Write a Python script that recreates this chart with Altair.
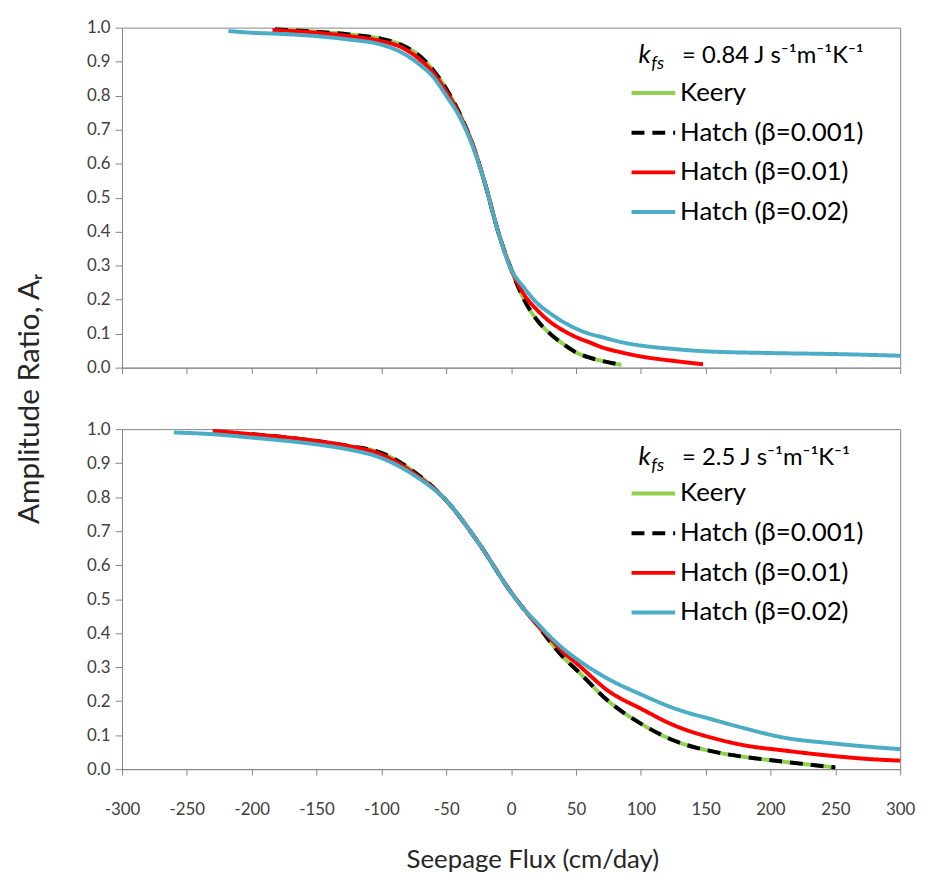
import altair as alt
import pandas as pd

SERIES = ["Keery", "Hatch (β=0.001)", "Hatch (β=0.01)", "Hatch (β=0.02)"]
COLORS = ["#92D050", "#000000", "#FF0000", "#4BACC6"]
DASHES = [[1, 0], [13, 8], [1, 0], [1, 0]]

X_TICKS = [-300, -250, -200, -150, -100, -50, 0, 50, 100, 150, 200, 250, 300]
Y_TICKS = [0.0, 0.1, 0.2, 0.3, 0.4, 0.5, 0.6, 0.7, 0.8, 0.9, 1.0]

X_TITLE = "Seepage Flux (cm/day)"
Y_TITLE = "Amplitude Ratio, Aᵣ"
K_SYMBOL = "k"
K_SUB = "fs"
K_TOP = "= 0.84 J s⁻¹m⁻¹K⁻¹"
K_BOT = "= 2.5 J s⁻¹m⁻¹K⁻¹"

# ---- top panel (k_fs = 0.84) ----
top_keery_x = [-182, -150, -125, -100, -85, -70, -60, -50, -40, -30, -20, -10, 0, 10, 20, 30, 40, 50, 60, 70, 85]
top_keery_y = [0.995, 0.988, 0.98, 0.967, 0.95, 0.915, 0.875, 0.82, 0.75, 0.66, 0.54, 0.40, 0.29, 0.20, 0.14, 0.10, 0.07, 0.045, 0.03, 0.02, 0.008]
top_h001_x = [-182, -150, -125, -100, -85, -70, -60, -50, -40, -30, -20, -10, 0, 10, 20, 30, 40, 50, 60, 70, 85]
top_h001_y = [0.995, 0.988, 0.98, 0.967, 0.95, 0.915, 0.875, 0.82, 0.75, 0.66, 0.54, 0.40, 0.29, 0.20, 0.14, 0.10, 0.07, 0.045, 0.03, 0.02, 0.008]
top_h01_x = [-184, -150, -125, -100, -85, -70, -60, -50, -40, -30, -20, -10, 0, 10, 20, 30, 40, 50, 60, 70, 85, 100, 125, 148]
top_h01_y = [0.993, 0.985, 0.975, 0.96, 0.943, 0.905, 0.867, 0.812, 0.745, 0.66, 0.54, 0.40, 0.29, 0.215, 0.17, 0.135, 0.11, 0.09, 0.075, 0.06, 0.045, 0.033, 0.02, 0.01]
top_h02_x = [-218, -200, -180, -150, -125, -100, -85, -70, -60, -50, -40, -30, -20, -10, 0, 10, 20, 30, 40, 50, 60, 70, 85, 100, 125, 150, 200, 250, 300]
top_h02_y = [0.99, 0.985, 0.982, 0.975, 0.965, 0.95, 0.928, 0.89, 0.855, 0.80, 0.74, 0.655, 0.54, 0.40, 0.29, 0.235, 0.19, 0.16, 0.135, 0.115, 0.10, 0.09, 0.075, 0.065, 0.055, 0.048, 0.043, 0.04, 0.035]

# ---- bottom panel (k_fs = 2.5) ----
bot_keery_x = [-200, -150, -125, -100, -75, -50, -25, 0, 10, 20, 30, 40, 52, 75, 100, 125, 158, 180, 210, 250]
bot_keery_y = [0.985, 0.965, 0.95, 0.93, 0.875, 0.79, 0.665, 0.52, 0.47, 0.425, 0.375, 0.33, 0.286, 0.20, 0.134, 0.085, 0.05, 0.036, 0.022, 0.005]
bot_h001_x = [-200, -150, -125, -100, -75, -50, -25, 0, 10, 20, 30, 40, 52, 75, 100, 125, 158, 180, 210, 250]
bot_h001_y = [0.985, 0.965, 0.95, 0.93, 0.875, 0.79, 0.665, 0.52, 0.47, 0.425, 0.375, 0.33, 0.286, 0.20, 0.134, 0.085, 0.05, 0.036, 0.022, 0.005]
bot_h01_x = [-230, -200, -150, -125, -100, -75, -50, -25, 0, 10, 20, 30, 40, 52, 75, 100, 125, 158, 180, 210, 250, 275, 300]
bot_h01_y = [0.995, 0.985, 0.965, 0.95, 0.925, 0.87, 0.79, 0.665, 0.52, 0.47, 0.425, 0.385, 0.345, 0.306, 0.23, 0.178, 0.13, 0.089, 0.07, 0.055, 0.038, 0.03, 0.025]
bot_h02_x = [-260, -230, -200, -150, -125, -100, -75, -50, -25, 0, 10, 20, 30, 40, 52, 75, 100, 125, 158, 180, 210, 250, 275, 300]
bot_h02_y = [0.99, 0.985, 0.975, 0.955, 0.94, 0.915, 0.865, 0.79, 0.665, 0.52, 0.47, 0.43, 0.39, 0.355, 0.32, 0.265, 0.22, 0.18, 0.143, 0.12, 0.093, 0.075, 0.066, 0.059]

FONT = "Lato"
GRAY = "#868686"
W, H = 785, 343


def make_df(pairs):
    rows = []
    for name, xs, ys in pairs:
        for x, y in zip(xs, ys):
            rows.append({"series": name, "flux": x, "ar": y})
    return pd.DataFrame(rows)


top_df = make_df([
    (SERIES[0], top_keery_x, top_keery_y),
    (SERIES[1], top_h001_x, top_h001_y),
    (SERIES[2], top_h01_x, top_h01_y),
    (SERIES[3], top_h02_x, top_h02_y),
])
bot_df = make_df([
    (SERIES[0], bot_keery_x, bot_keery_y),
    (SERIES[1], bot_h001_x, bot_h001_y),
    (SERIES[2], bot_h01_x, bot_h01_y),
    (SERIES[3], bot_h02_x, bot_h02_y),
])

HYPHEN = "replace(datum.label, '\u2212', '-')"


def panel(df, k_text, is_bottom, legend_y):
    if is_bottom:
        xaxis = alt.Axis(values=X_TICKS, title=X_TITLE, labelFontSize=17, titleFontSize=26,
                         titleFontWeight="normal", labelPadding=27, titlePadding=29,
                         titleX=414, titleAlign="center",
                         tickSize=6, labelFlush=False, labelExpr=HYPHEN)
        yaxis = alt.Axis(values=Y_TICKS, format=".1f", title=None, labelFontSize=17,
                         tickSize=7, labelPadding=5)
    else:
        xaxis = alt.Axis(values=X_TICKS, labels=False, title=None, tickSize=6)
        yaxis = alt.Axis(values=Y_TICKS, format=".1f", title=Y_TITLE, labelFontSize=17,
                         tickSize=7, labelPadding=5, titleFontSize=30, titleFontWeight="normal",
                         titleX=-93, titleY=374, titleAlign="center", titleBaseline="middle",
                         titleAngle=270)
    legend = alt.Legend(orient="none", legendX=523, legendY=legend_y, title=None,
                        symbolType="M-2,0H2", symbolSize=484, symbolStrokeWidth=4,
                        labelFontSize=26, labelFont=FONT, labelColor="#000000", labelLimit=400,
                        labelOffset=14, rowPadding=14, padding=0)
    base = alt.Chart(df).mark_line(strokeWidth=4, interpolate="monotone").encode(
        x=alt.X("flux:Q", scale=alt.Scale(domain=[-300, 300], nice=False, zero=False), axis=xaxis),
        y=alt.Y("ar:Q", scale=alt.Scale(domain=[0, 1], nice=False), axis=yaxis),
        color=alt.Color("series:N", scale=alt.Scale(domain=SERIES, range=COLORS), legend=legend),
        strokeDash=alt.StrokeDash("series:N", scale=alt.Scale(domain=SERIES, range=DASHES), legend=legend),
    )
    layers = [base.transform_filter(alt.datum.series == s) for s in SERIES]

    kdf = pd.DataFrame({"k": [K_SYMBOL], "sub": [K_SUB], "rest": [k_text]})
    k1 = alt.Chart(kdf).mark_text(font=FONT, fontSize=26, fontStyle="italic", align="left",
                                  baseline="middle", color="#000000").encode(
        x=alt.value(521), y=alt.value(28), text="k:N")
    k2 = alt.Chart(kdf).mark_text(font=FONT, fontSize=18, fontStyle="italic", align="left",
                                  baseline="middle", color="#000000").encode(
        x=alt.value(534), y=alt.value(37), text="sub:N")
    k3 = alt.Chart(kdf).mark_text(font=FONT, fontSize=24, align="left",
                                  baseline="middle", color="#000000").encode(
        x=alt.value(565), y=alt.value(29), text="rest:N")
    return alt.layer(*layers, k1, k2, k3).properties(width=W, height=H)


top = panel(top_df, K_TOP, False, 53)
bottom = panel(bot_df, K_BOT, True, 52)

chart = (
    alt.vconcat(top, bottom, spacing=62, bounds="flush")
    .resolve_scale(color="independent", strokeDash="independent")
    .resolve_legend(color="independent", strokeDash="independent")
    .properties(padding={"left": 6, "top": 6, "right": 5, "bottom": 0})
    .configure_view(stroke=GRAY, strokeWidth=1)
    .configure_axis(labelFont=FONT, titleFont=FONT, labelColor="#404040", titleColor="#262626",
                    domainColor=GRAY, tickColor=GRAY, grid=False)
)

chart.save("out.html", embed_options={"renderer": "svg", "actions": False})
